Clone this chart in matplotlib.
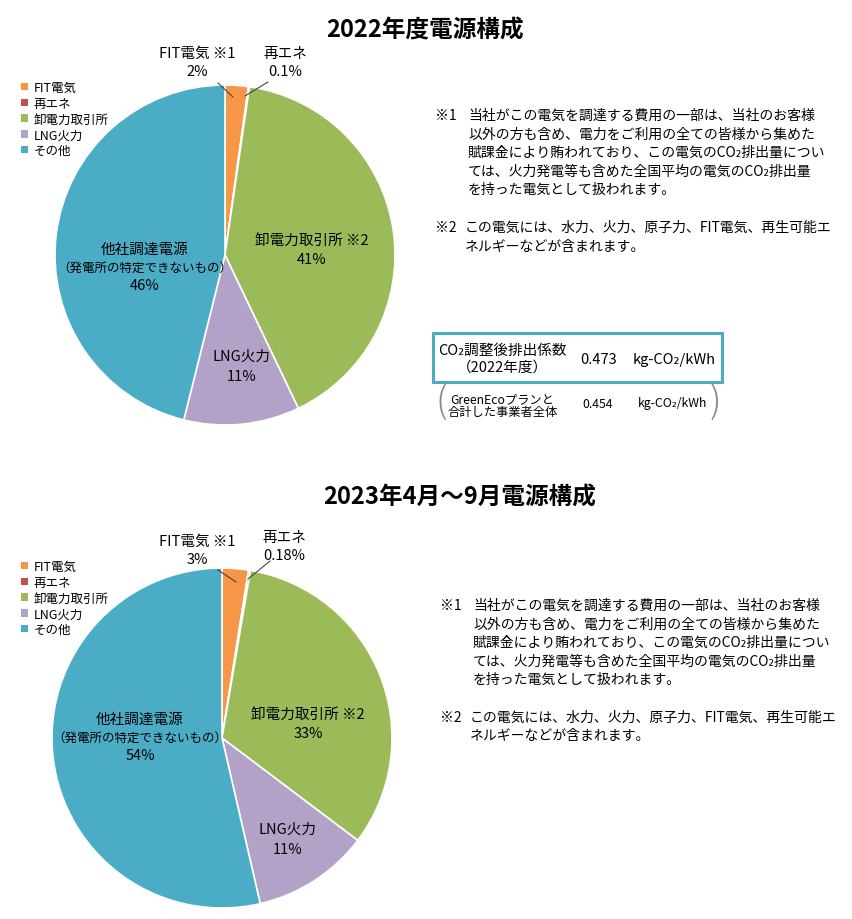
import matplotlib
matplotlib.use("Agg")
import matplotlib.pyplot as plt
from matplotlib.patches import Patch, Rectangle

plt.rcParams['font.family'] = ['Noto Sans CJK JP', 'DejaVu Sans']

# データ
categories = ['FIT電気', '再エネ', '卸電力取引所', 'LNG火力', 'その他']
colors = ['#F79646', '#C0504D', '#9BBB59', '#B3A2C7', '#4BACC6']
values_2022 = [2.2, 0.1, 40.6, 11.0, 46.1]
labels_2022 = ['2%', '0.1%', '41%', '11%', '46%']
values_2023 = [2.5, 0.18, 32.6, 11.1, 53.6]
labels_2023 = ['3%', '0.18%', '33%', '11%', '54%']

note1 = ['当社がこの電気を調達する費用の一部は、当社のお客様',
         '以外の方も含め、電力をご利用の全ての皆様から集めた',
         '賦課金により賄われており、この電気のCO₂排出量につい',
         'ては、火力発電等も含めた全国平均の電気のCO₂排出量',
         'を持った電気として扱われます。']
note2 = ['この電気には、水力、火力、原子力、FIT電気、再生可能エ',
         'ネルギーなどが含まれます。']

W, H = 853, 920
fig = plt.figure(figsize=(W / 100, H / 100), dpi=100)


def fx(px):
    return px / W


def fy(py):
    return 1 - py / H


def draw_pie(cx, cy, r, values, pct, title, tx, ty, legend_y, pos):
    ax = fig.add_axes([fx(cx - r), fy(cy + r), 2 * r / W, 2 * r / H])
    ax.pie(values, colors=colors, startangle=90, counterclock=False,
           wedgeprops=dict(edgecolor='white', linewidth=1.2))
    ax.set_xlim(-1, 1)
    ax.set_ylim(-1, 1)
    ax.set_aspect('equal')
    ax.axis('off')

    def d(px, py):
        return (px - cx) / r, (cy - py) / r

    fig.text(fx(tx), fy(ty), title, ha='center', va='center',
             fontsize=17, fontweight='bold')

    # ラベル
    t = dict(ha='center', va='center', fontsize=10.5)
    ax.text(*d(*pos['fit']), 'FIT電気 ※1\n' + pct[0], linespacing=1.4, **t)
    ax.text(*d(*pos['re']), '再エネ\n' + pct[1], linespacing=1.4, **t)
    ax.text(*d(*pos['oroshi']), '卸電力取引所 ※2\n' + pct[2], linespacing=1.4, **t)
    ax.text(*d(*pos['lng']), 'LNG火力\n' + pct[3], linespacing=1.5, **t)
    ox, oy = pos['other']
    ax.text(*d(ox, oy - 18), '他社調達電源', **t)
    ax.text(*d(ox, oy), '（発電所の特定できないもの）', ha='center', va='center', fontsize=9)
    ax.text(*d(ox, oy + 18), pct[4], **t)

    for (x0, y0), (x1, y1) in pos['lines']:
        a, b = d(x0, y0)
        c, e = d(x1, y1)
        ax.plot([a, c], [b, e], color='#444444', lw=0.8, clip_on=False)

    handles = [Patch(facecolor=c, edgecolor='none') for c in colors]
    fig.legend(handles, categories, loc='upper left',
               bbox_to_anchor=(fx(16), fy(legend_y)), frameon=False,
               fontsize=9, handlelength=0.55, handleheight=0.55,
               handletextpad=0.45, labelspacing=0.22, borderaxespad=0)


def draw_notes(x, y):
    fs = 10
    fig.text(fx(x), fy(y), '※1', ha='left', va='center', fontsize=fs)
    for i, line in enumerate(note1):
        fig.text(fx(x + 33), fy(y + i * 18.5), line, ha='left', va='center', fontsize=fs)
    y2 = y + 112
    fig.text(fx(x), fy(y2), '※2', ha='left', va='center', fontsize=fs)
    for i, line in enumerate(note2):
        fig.text(fx(x + 30), fy(y2 + i * 18.5), line, ha='left', va='center', fontsize=fs)


draw_pie(225, 256, 170, values_2022, labels_2022, '2022年度電源構成', 425, 30, 77,
         dict(fit=(197, 63), re=(285, 63), oroshi=(312, 251), lng=(242, 367),
              other=(145, 268),
              lines=[((218, 84), (233, 98)), ((268, 83), (245, 97))]))
draw_notes(435, 116)

draw_pie(222, 739, 170, values_2023, labels_2023, '2023年4月～9月電源構成', 460, 498, 556,
         dict(fit=(197, 551), re=(284, 547), oroshi=(308, 725), lng=(288, 840),
              other=(140, 738),
              lines=[((218, 571), (236, 583)), ((270, 562), (248, 580))]))
draw_notes(440, 606)

# CO2 排出係数ボックス
fig.add_artist(Rectangle((fx(433), fy(383)), fx(722) - fx(433), fy(334) - fy(383),
                         transform=fig.transFigure, fill=False,
                         edgecolor='#4BACC6', linewidth=2.2))
fig.text(fx(502), fy(351), 'CO₂調整後排出係数', ha='center', va='center', fontsize=10.5)
fig.text(fx(502), fy(368), '（2022年度）', ha='center', va='center', fontsize=10.5)
fig.text(fx(599), fy(360), '0.473', ha='center', va='center', fontsize=10.5)
fig.text(fx(674), fy(360), 'kg-CO₂/kWh', ha='center', va='center', fontsize=10.5)

fig.text(fx(502), fy(400), 'GreenEcoプランと', ha='center', va='center', fontsize=8.8)
fig.text(fx(503), fy(413), '合計した事業者全体', ha='center', va='center', fontsize=8.8)
fig.text(fx(598), fy(404), '0.454', ha='center', va='center', fontsize=8.8)
fig.text(fx(673), fy(404), 'kg-CO₂/kWh', ha='center', va='center', fontsize=8.8)
fig.text(fx(441), fy(403), '(', ha='center', va='center', fontsize=26,
         color='#888888', fontweight='light')
fig.text(fx(715), fy(403), ')', ha='center', va='center', fontsize=26,
         color='#888888', fontweight='light')

fig.savefig('out.png', dpi=100)
